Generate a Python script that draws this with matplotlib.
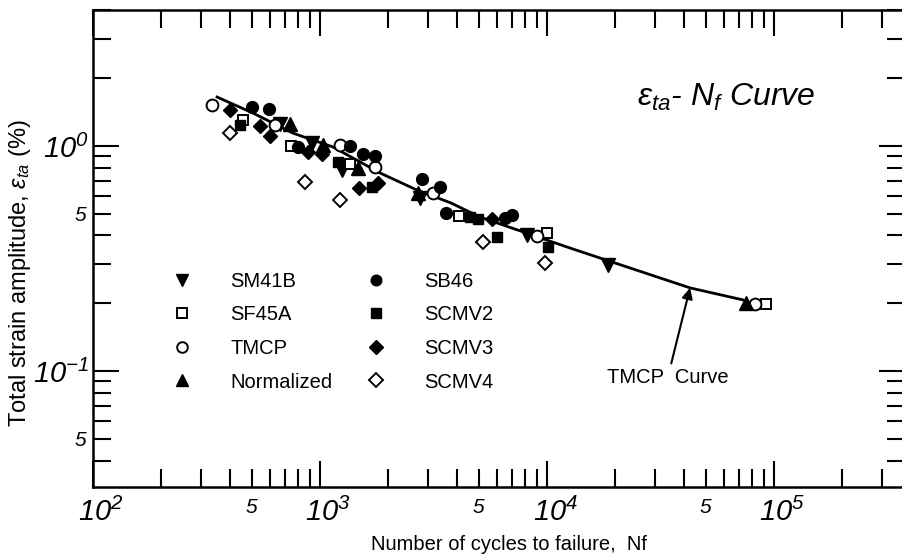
import numpy as np
import matplotlib
matplotlib.use("Agg")
import matplotlib.pyplot as plt
import matplotlib.transforms as mtransforms
from matplotlib.ticker import FixedLocator, LogLocator, FuncFormatter

# data: cycles to failure Nf, total strain amplitude (%)
sm41b_n = [666, 922, 1250, 2760, 8170, 18600]
sm41b_e = [1.25, 1.03, 0.78, 0.587, 0.402, 0.296]

sf45a_n = [458, 745, 1356, 4100, 10000, 92200]
sf45a_e = [1.30, 1.00, 0.83, 0.489, 0.411, 0.199]

tmcp_n = [334, 634, 1225, 1747, 3145, 9030, 82400]
tmcp_e = [1.52, 1.24, 1.01, 0.807, 0.618, 0.398, 0.199]

norm_n = [738, 1031, 1470, 2700, 75300]
norm_e = [1.25, 1.01, 0.80, 0.618, 0.200]

sb46_n = [501, 596, 800, 1356, 1547, 1747, 2814, 3378, 3589, 6530, 7015]
sb46_e = [1.49, 1.46, 0.99, 1.00, 0.921, 0.903, 0.713, 0.657, 0.504, 0.479, 0.494]

scmv2_n = [444, 1200, 1694, 4600, 4950, 6020, 10100]
scmv2_e = [1.24, 0.849, 0.657, 0.484, 0.474, 0.394, 0.356]

scmv3_n = [401, 544, 602, 885, 1020, 1485, 1801, 5730]
scmv3_e = [1.445, 1.227, 1.108, 0.94, 0.921, 0.651, 0.685, 0.474]

scmv4_n = [401, 859, 1225, 5224, 9800]
scmv4_e = [1.14, 0.692, 0.575, 0.374, 0.302]

# TMCP curve
curve_n = [352, 507, 760, 1140, 1837, 2673, 3776, 5070, 12620, 23200, 42700, 72900]
curve_e = [1.65, 1.40, 1.14, 0.99, 0.759, 0.637, 0.558, 0.483, 0.352, 0.287, 0.234, 0.207]

plt.rcParams["font.family"] = ["Liberation Sans", "DejaVu Sans"]
plt.rcParams["mathtext.fontset"] = "custom"
plt.rcParams["mathtext.default"] = "regular"
plt.rcParams["mathtext.rm"] = "Liberation Sans"
plt.rcParams["mathtext.it"] = "Liberation Sans:italic"

fig = plt.figure(figsize=(9.02, 5.57), dpi=100)
ax = fig.add_axes([93 / 902, 70 / 557, 812 / 902, 477 / 557])
ax.set_xscale("log")
ax.set_yscale("log")
ax.set_xlim(1e2, 3.78e5)
ax.set_ylim(0.0305, 4.02)

ax.plot(curve_n, curve_e, color="k", lw=2.0, zorder=2)

ms = 8.5
ax.plot(sm41b_n, sm41b_e, "v", color="k", ms=ms + 1, ls="none", label="SM41B", zorder=3)
ax.plot(sf45a_n, sf45a_e, "s", mfc="white", mec="k", mew=1.4, ms=ms - 1, ls="none", label="SF45A", zorder=3)
ax.plot(tmcp_n, tmcp_e, "o", mfc="white", mec="k", mew=1.4, ms=ms, ls="none", label="TMCP", zorder=3)
ax.plot(norm_n, norm_e, "^", color="k", ms=ms + 1, ls="none", label="Normalized", zorder=3)
ax.plot(sb46_n, sb46_e, "o", color="k", ms=ms, ls="none", label="SB46", zorder=3)
ax.plot(scmv2_n, scmv2_e, "s", color="k", ms=ms - 1, ls="none", label="SCMV2", zorder=3)
ax.plot(scmv3_n, scmv3_e, "D", color="k", ms=ms - 1, ls="none", label="SCMV3", zorder=3)
ax.plot(scmv4_n, scmv4_e, "D", mfc="white", mec="k", mew=1.4, ms=ms - 1, ls="none", label="SCMV4", zorder=3)

# ticks: decades long, 2..9 short, "5" labels on the 5x ticks
ax.xaxis.set_major_locator(FixedLocator([1e2, 1e3, 1e4, 1e5]))
ax.yaxis.set_major_locator(FixedLocator([1e-1, 1e0]))
ax.xaxis.set_minor_locator(LogLocator(base=10, subs=np.arange(2, 10), numticks=20))
ax.yaxis.set_minor_locator(LogLocator(base=10, subs=np.arange(2, 10), numticks=20))


def major_fmt(v, pos):
    return r"$10^{%d}$" % int(round(np.log10(v)))


def minor_fmt(v, pos):
    m = v / 10 ** np.floor(np.log10(v) + 1e-9)
    return "5" if abs(m - 5) < 0.01 else ""


ax.xaxis.set_major_formatter(FuncFormatter(major_fmt))
ax.yaxis.set_major_formatter(FuncFormatter(major_fmt))
ax.xaxis.set_minor_formatter(FuncFormatter(minor_fmt))
ax.yaxis.set_minor_formatter(FuncFormatter(minor_fmt))

ax.tick_params(which="both", direction="in", top=True, right=True, width=1.5, colors="k")
ax.tick_params(which="major", length=19, labelsize=21, pad=3)
ax.tick_params(which="minor", length=13, labelsize=15, pad=5)
ax.tick_params(axis="x", which="major", pad=8)
ax.tick_params(axis="x", which="minor", pad=8)
for sp in ax.spines.values():
    sp.set_linewidth(1.8)

ax.set_xlabel("Number of cycles to failure,  Nf", fontsize=14.5)
ax.xaxis.set_label_coords((509 - 93) / 812, (487 - 535) / 477)
ax.set_ylabel(r"Total strain amplitude, $\mathit{\varepsilon_{ta}}$ (%)", fontsize=17)
ax.yaxis.set_label_coords((33 - 93) / 812, (487 - 273) / 477)

ax.text((726 - 93) / 812, (487 - 97) / 477,
        r"$\mathit{\varepsilon_{ta}}$- $\mathit{N_f}$ Curve",
        transform=ax.transAxes, ha="center", va="center", fontsize=23, fontstyle="italic")

ax.annotate("TMCP  Curve", xy=(42700, 0.234), xytext=(34100, 0.094),
            ha="center", va="center", fontsize=14.5,
            arrowprops=dict(arrowstyle="-|>", color="k", lw=1.5, mutation_scale=16,
                            shrinkA=1, shrinkB=0))

ax.legend(loc="upper left", bbox_to_anchor=((162 - 93) / 812, (487 - 272) / 477),
          ncol=2, frameon=False, fontsize=14.5, handlelength=2.0, handletextpad=1.4,
          columnspacing=1.15, labelspacing=0.72, borderpad=0, borderaxespad=0,
          markerscale=0.9)

fig.canvas.draw()
for lab in ax.get_xticklabels(which="both") + ax.get_yticklabels(which="both"):
    lab.set_fontstyle("italic")
shift = mtransforms.ScaledTranslation(6 / 72, 0, fig.dpi_scale_trans)
for lab in ax.xaxis.get_majorticklabels():
    lab.set_transform(lab.get_transform() + shift)

fig.savefig("out.png", dpi=100)
